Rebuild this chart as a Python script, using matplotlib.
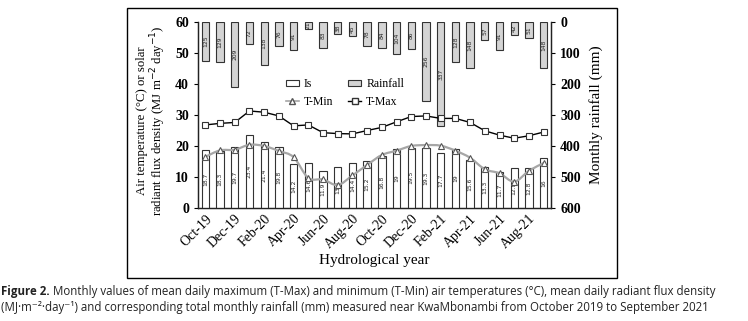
import matplotlib
matplotlib.use("Agg")
import matplotlib.pyplot as plt
from matplotlib.patches import Rectangle, Patch
from matplotlib.lines import Line2D
from matplotlib.path import Path
from matplotlib.patches import PathPatch
import numpy as np

months = ["Oct-19", "Nov-19", "Dec-19", "Jan-20", "Feb-20", "Mar-20", "Apr-20", "May-20",
          "Jun-20", "Jul-20", "Aug-20", "Sep-20", "Oct-20", "Nov-20", "Dec-20", "Jan-21",
          "Feb-21", "Mar-21", "Apr-21", "May-21", "Jun-21", "Jul-21", "Aug-21", "Sep-21"]
solar_is = [18.7, 18.3, 19.7, 23.4, 21.4, 19.8, 14.2, 14.6, 11.9, 13.3, 14.4, 15.2,
            16.8, 19, 19.5, 19.3, 17.7, 19, 15.6, 13.3, 11.7, 12.8, 12.8, 16]
rainfall = [125, 129, 209, 72, 138, 76, 91, 21, 83, 38, 45, 78,
            84, 104, 86, 256, 337, 128, 148, 57, 91, 42, 51, 148]
t_min = [16.5, 18.6, 18.8, 20.4, 20.0, 18.4, 16.4, 9.7, 9.2, 7.4, 10.5, 13.9,
         17.1, 18.5, 20.0, 20.3, 20.1, 18.5, 16.2, 12.5, 11.2, 8.5, 12.0, 14.5]
t_max = [26.8, 27.3, 27.6, 31.3, 30.9, 29.7, 26.5, 26.8, 24.3, 24.0, 23.9, 25.0,
         26.0, 27.8, 29.5, 29.7, 28.9, 28.9, 27.6, 24.9, 23.5, 22.5, 23.3, 24.5]

serif = "Liberation Serif"

fig = plt.figure(figsize=(7.48, 3.21), dpi=100)
ax = fig.add_axes([198/748, 1-208/321, 353/748, 186/321])
ax2 = ax.twinx()

x = np.arange(len(months))
w = 0.5

# rainfall bars on secondary (inverted) axis
ax2.bar(x, rainfall, width=w, color="#d4d4d4", edgecolor="#333333", linewidth=0.8, zorder=2)
ax2.set_ylim(600, 0)
for xi, r in zip(x, rainfall):
    ax2.text(xi, r/2, f"{r}", rotation=90, ha="center", va="center", fontsize=4.3,
             family="DejaVu Sans", color="#222222", zorder=3)

# Is bars
ax.bar(x, solar_is, width=w, color="white", edgecolor="#333333", linewidth=0.8, zorder=2)
for xi, v in zip(x, solar_is):
    ax.text(xi, v/2, f"{v:g}", rotation=90, ha="center", va="center", fontsize=4.3,
            family="DejaVu Sans", color="#222222", zorder=3)

# smooth T-Min line (Catmull-Rom through points, drawn as Bezier path)
def smooth_path(xs, ys, t=1/6):
    pts = np.column_stack([xs, ys]).astype(float)
    verts = [pts[0]]
    codes = [Path.MOVETO]
    n = len(pts)
    for i in range(n-1):
        p0 = pts[i-1] if i > 0 else pts[i]
        p1 = pts[i]
        p2 = pts[i+1]
        p3 = pts[i+2] if i+2 < n else pts[i+1]
        c1 = p1 + (p2 - p0) * t
        c2 = p2 - (p3 - p1) * t
        verts += [c1, c2, p2]
        codes += [Path.CURVE4]*3
    return Path(verts, codes)

ax.add_patch(PathPatch(smooth_path(x, t_min), facecolor="none", edgecolor="#a6a6a6",
                       linewidth=1.6, zorder=4))
ax.plot(x, t_min, linestyle="none", marker="^", markersize=4.5, markerfacecolor="white",
        markeredgecolor="#555555", markeredgewidth=0.8, zorder=5)
ax.plot(x, t_max, color="black", linewidth=1.0, marker="s", markersize=4.5,
        markerfacecolor="white", markeredgecolor="#333333", markeredgewidth=0.8, zorder=5)

ax.set_zorder(ax2.get_zorder()+1)
ax.patch.set_visible(False)

ax.set_xlim(-0.5, 23.5)
ax.set_ylim(0, 60)
ax.set_yticks(range(0, 61, 10))
ax2.set_yticks(range(0, 601, 100))
ax.set_xticks(x[::2])
ax.set_xticklabels(months[::2], rotation=45, ha="right", rotation_mode="anchor",
                   family=serif, fontsize=10)
ax.tick_params(axis="x", length=0, pad=3)
ax.tick_params(axis="y", length=3, direction="out", width=0.8)
ax2.tick_params(axis="y", length=3, direction="out", width=0.8)
for lab in ax.get_yticklabels():
    lab.set_family(serif); lab.set_fontsize(10); lab.set_fontweight("bold")
for lab in ax2.get_yticklabels():
    lab.set_family(serif); lab.set_fontsize(10); lab.set_fontweight("bold")

for a in (ax, ax2):
    a.spines["top"].set_visible(False)
    for s in ("left", "right", "bottom"):
        a.spines[s].set_linewidth(0.9)
        a.spines[s].set_color("#222222")

ax.set_ylabel("Air temperature (\u00b0C) or solar\nradiant flux density (MJ m$^{-2}$ day$^{-1}$)",
              family=serif, fontsize=9.2, linespacing=1.0, labelpad=3)
ax.yaxis.set_label_coords(-0.085, 0.47)
ax2.set_ylabel("Monthly rainfall (mm)", family=serif, fontsize=11, labelpad=6)
ax.set_xlabel("Hydrological year", family=serif, fontsize=11, labelpad=2)

h_is = Patch(facecolor="white", edgecolor="#333333", linewidth=0.8, label="Is")
h_rain = Patch(facecolor="#d4d4d4", edgecolor="#333333", linewidth=0.8, label="Rainfall")
h_tmin = Line2D([], [], color="#a6a6a6", linewidth=1.2, marker="^", markersize=4,
                markerfacecolor="white", markeredgecolor="#555555", label="T-Min")
h_tmax = Line2D([], [], color="black", linewidth=1.0, marker="s", markersize=4,
                markerfacecolor="white", markeredgecolor="#333333", label="T-Max")
leg = ax.legend(handles=[h_is, h_tmin, h_rain, h_tmax], ncol=2, loc="center left",
                bbox_to_anchor=(0.249, 0.618), frameon=False, borderpad=0, borderaxespad=0,
                prop={"family": serif, "size": 8.5}, handlelength=1.1, handleheight=0.35,
                handletextpad=0.4, columnspacing=1.3, labelspacing=0.5)
leg.set_zorder(10)

# outer frame
fig.patches.append(Rectangle((127/748, 1-278/321), (617-127)/748, (278-8)/321,
                             transform=fig.transFigure, fill=False, edgecolor="black",
                             linewidth=1.0))

cap_font = ["Liberation Sans Narrow", "Open Sans", "DejaVu Sans"]
cap_color = "#222222"
fs = 8.3
t_bold = fig.text(0.002, 1-292/321, "Figure 2.", fontsize=fs, family=cap_font,
                  fontweight="bold", va="center", color=cap_color)
fig.canvas.draw()
bb = t_bold.get_window_extent(renderer=fig.canvas.get_renderer())
x_rest = (bb.x1 + 3) / fig.bbox.width
fig.text(x_rest, 1-292/321,
         "Monthly values of mean daily maximum (T-Max) and minimum (T-Min) air temperatures (\u00b0C), mean daily radiant flux density",
         fontsize=fs, family=cap_font, va="center", color=cap_color)
fig.text(0.002, 1-307/321,
         "(MJ\u00b7m\u207b\u00b2\u00b7day\u207b\u00b9) and corresponding total monthly rainfall (mm) measured near KwaMbonambi from October 2019 to September 2021",
         fontsize=fs, family=cap_font, va="center", color=cap_color)

fig.savefig("out.png", dpi=100, facecolor="white")
